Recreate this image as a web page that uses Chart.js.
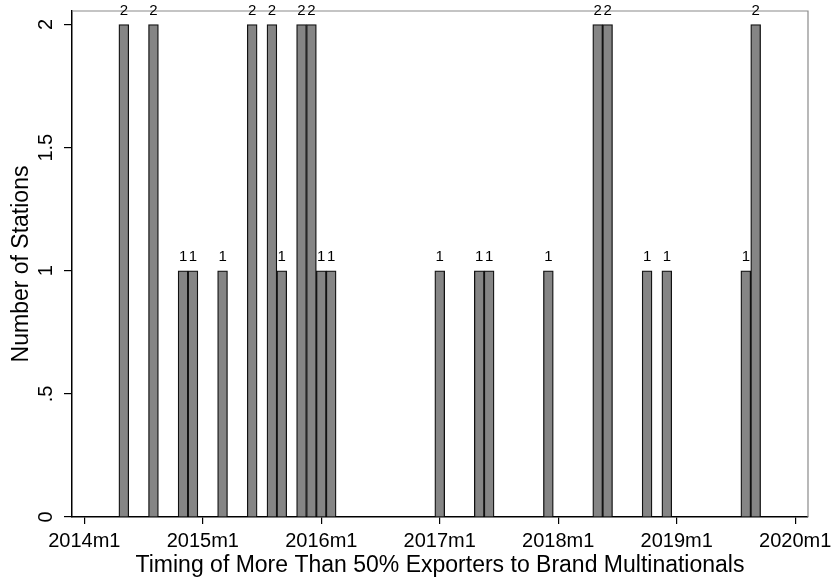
<!DOCTYPE html>
<html>
<head>
<meta charset="utf-8">
<script src="https://cdn.jsdelivr.net/npm/chart.js@4.4.0/dist/chart.umd.min.js"></script>
<style>
  html, body { margin: 0; padding: 0; background: #fff; }
  #wrap { width: 833px; height: 584px; }
</style>
</head>
<body>
<div id="wrap"><canvas id="chart"></canvas></div>
<script>
// months (Stata %tm style) and number of stations in each
const months = ["2014m5", "2014m8", "2014m11", "2014m12", "2015m3", "2015m6", "2015m8", "2015m9",
  "2015m11", "2015m12", "2016m1", "2016m2", "2017m1", "2017m5", "2017m6", "2017m12",
  "2018m5", "2018m6", "2018m10", "2018m12", "2019m8", "2019m9"];
const stations = [2, 2, 1, 1, 1, 2, 2, 1, 2, 2, 1, 1, 1, 1, 1, 1, 2, 2, 1, 1, 1, 2];

// axis ticks
const xTickLabels = ["2014m1", "2015m1", "2016m1", "2017m1", "2018m1", "2019m1", "2020m1"];
const yTickValues = [0, 0.5, 1, 1.5, 2];
const yTickLabels = ["0", ".5", "1", "1.5", "2"];

const FONT = "'Liberation Sans', Arial, Helvetica, sans-serif";

// "2015m3" -> months since 2014m1
function monthIndex(s) {
  const [y, m] = s.split("m").map(Number);
  return (y - 2014) * 12 + (m - 1);
}

const points = months.map((m, i) => ({ x: monthIndex(m), y: stations[i] }));
const xTickValues = xTickLabels.map(monthIndex);

// bar value labels above each bar
const barLabels = {
  id: "barLabels",
  afterDatasetsDraw(chart) {
    const ctx = chart.ctx;
    const meta = chart.getDatasetMeta(0);
    ctx.save();
    ctx.font = "15px " + FONT;
    ctx.fillStyle = "#000";
    ctx.textAlign = "center";
    ctx.textBaseline = "alphabetic";
    meta.data.forEach((bar, i) => {
      ctx.fillText(String(stations[i]), bar.x, bar.y - 9.5);
    });
    ctx.restore();
  }
};

// top and right edges of the plot region
const frame = {
  id: "frame",
  beforeDatasetsDraw(chart) {
    const { ctx, chartArea: a } = chart;
    ctx.save();
    ctx.strokeStyle = "#8a8a8a";
    ctx.lineWidth = 1.2;
    ctx.beginPath();
    ctx.moveTo(a.left, a.top);
    ctx.lineTo(a.right, a.top);
    ctx.lineTo(a.right, a.bottom);
    ctx.stroke();
    ctx.restore();
  }
};

new Chart(document.querySelector("#chart"), {
  type: "bar",
  data: {
    datasets: [{
      data: points,
      backgroundColor: "#858585",
      borderColor: "#111",
      borderWidth: 1.3,
      barPercentage: 1,
      categoryPercentage: 1
    }]
  },
  options: {
    animation: false,
    responsive: true,
    maintainAspectRatio: false,
    layout: { padding: { top: 11, right: 25, left: 0, bottom: 0 } },
    plugins: { legend: { display: false }, tooltip: { enabled: false } },
    scales: {
      x: {
        type: "linear",
        offset: false,
        min: -1.25,
        max: 73.3,
        afterBuildTicks(scale) {
          scale.ticks = xTickValues.map(v => ({ value: v }));
        },
        afterFit(scale) {
          scale.height = 67;
          scale.paddingLeft = 0;
          scale.paddingRight = 0;
        },
        ticks: {
          autoSkip: false,
          maxRotation: 0,
          padding: 5,
          color: "#000",
          font: { family: FONT, size: 20 },
          callback: (v) => xTickLabels[xTickValues.indexOf(v)]
        },
        grid: { display: true, offset: false, drawOnChartArea: false, tickLength: 7, color: "#000", lineWidth: 1.2 },
        border: { display: true, color: "#000", width: 1.5 },
        title: {
          display: true,
          text: "Timing of More Than 50% Exporters to Brand Multinationals",
          color: "#000",
          font: { family: FONT, size: 23 },
          padding: { top: 0, bottom: 5 }
        }
      },
      y: {
        min: 0,
        max: 2.055,
        afterBuildTicks(scale) {
          scale.ticks = yTickValues.map(v => ({ value: v }));
        },
        afterFit(scale) {
          scale.width = 72;
          scale.paddingTop = 0;
          scale.paddingBottom = 0;
        },
        ticks: {
          autoSkip: false,
          minRotation: 90,
          maxRotation: 90,
          crossAlign: "center",
          padding: 4,
          color: "#000",
          font: { family: FONT, size: 20 },
          callback: (v) => yTickLabels[yTickValues.indexOf(v)]
        },
        grid: { display: true, drawOnChartArea: false, tickLength: 8, color: "#000", lineWidth: 1.2 },
        border: { display: true, color: "#000", width: 1.5 },
        title: {
          display: true,
          text: "Number of Stations",
          color: "#000",
          font: { family: FONT, size: 23 },
          padding: { top: 8, bottom: 0 }
        }
      }
    }
  },
  plugins: [frame, barLabels]
});
</script>
</body>
</html>
